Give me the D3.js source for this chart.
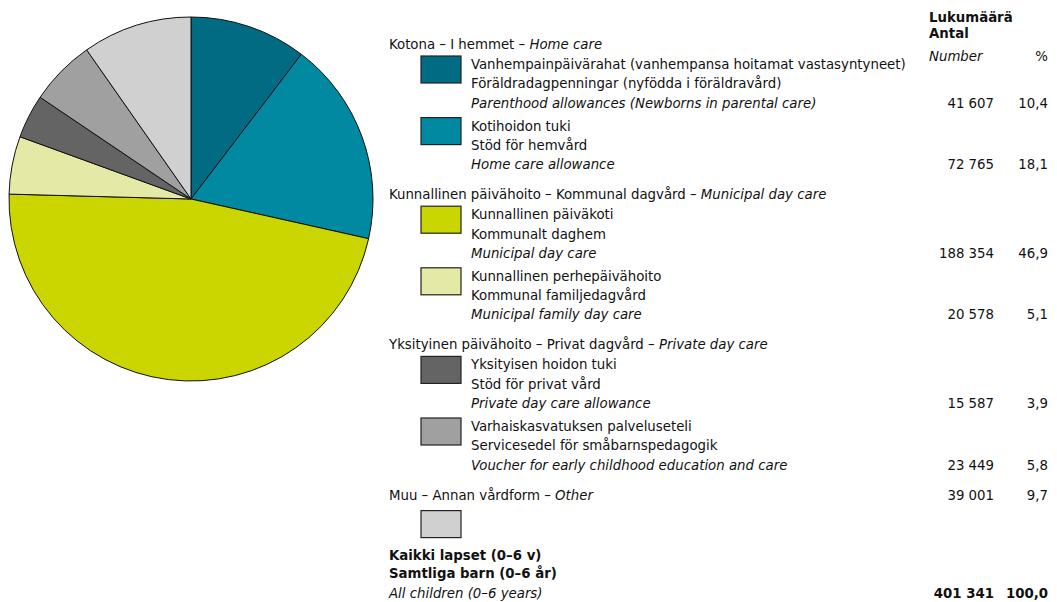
<!DOCTYPE html>
<html>
<head>
<meta charset="utf-8">
<script src="https://cdn.jsdelivr.net/npm/d3@7"></script>
<style>
  body { margin: 0; background: #fff; }
  svg text { font-family: "Liberation Sans Narrow", "DejaVu Sans Condensed", "Arial Narrow", sans-serif; font-size: 14.8px; fill: #111; }
  .it { font-style: italic; }
  .b { font-weight: bold; }
</style>
</head>
<body>
<svg id="chart" width="1057" height="602"></svg>
<script>
// Data
const groupHeaders = [
    ["Kotona – I hemmet – ", "Home care"],
    ["Kunnallinen päivähoito – Kommunal dagvård – ", "Municipal day care"],
    ["Yksityinen päivähoito – Privat dagvård – ", "Private day care"],
    ["Muu – Annan vårdform – ", "Other"]
];
const catGroup = [0, 0, 1, 1, 2, 2, 3];
const catFi = ["Vanhempainpäivärahat (vanhempansa hoitamat vastasyntyneet)", "Kotihoidon tuki",
    "Kunnallinen päiväkoti", "Kunnallinen perhepäivähoito", "Yksityisen hoidon tuki",
    "Varhaiskasvatuksen palveluseteli", ""];
const catSv = ["Föräldradagpenningar (nyfödda i föräldravård)", "Stöd för hemvård", "Kommunalt daghem",
    "Kommunal familjedagvård", "Stöd för privat vård", "Servicesedel för småbarnspedagogik", ""];
const catEn = ["Parenthood allowances (Newborns in parental care)", "Home care allowance", "Municipal day care",
    "Municipal family day care", "Private day care allowance", "Voucher for early childhood education and care", ""];
const counts = [41607, 72765, 188354, 20578, 15587, 23449, 39001];
const percents = ["10,4", "18,1", "46,9", "5,1", "3,9", "5,8", "9,7"];
const colors = ["#006b82", "#0089a1", "#cbd500", "#e5e9a6", "#646464", "#a0a0a0", "#d0d0d0"];
const totalLabel = ["Kaikki lapset (0–6 v)", "Samtliga barn (0–6 år)", "All children (0–6 years)"];
const totalCount = "401 341";
const totalPct = "100,0";

const fmt = n => d3.format(",")(n).replace(/,/g, " ");

const svg = d3.select('#chart');

//Pie
const cx = 191, cy = 199, radius = 182;
const pie = d3.pie().sort(null).value(d => d)(counts);
const arc = d3.arc().innerRadius(0).outerRadius(radius);
svg.append('g')
    .attr('transform', `translate(${cx},${cy})`)
    .selectAll('path')
    .data(pie)
    .enter().append('path')
    .attr('d', arc)
    .attr('fill', (d, i) => colors[i])
    .attr('stroke', '#111')
    .attr('stroke-width', 1);

//Legend
const xHead = 389, xSw = 421, xTxt = 471, xNum = 994, xPct = 1048;
const lineH = 19.3, afterHeader = 20, betweenCats = 23, beforeHeader = 30;
const lg = svg.append('g');

// column heads
lg.append('text').attr('class', 'b').attr('x', 929).attr('y', 22).text('Lukumäärä');
lg.append('text').attr('class', 'b').attr('x', 929).attr('y', 38).text('Antal');
lg.append('text').attr('class', 'it').attr('x', 929).attr('y', 61).text('Number');
lg.append('text').attr('x', xPct).attr('y', 61).attr('text-anchor', 'end').text('%');

const header = (g, y) => {
    const t = lg.append('text').attr('x', xHead).attr('y', y + 5);
    t.append('tspan').text(groupHeaders[g][0]);
    t.append('tspan').attr('class', 'it').text(groupHeaders[g][1]);
};
const values = (i, y) => {
    lg.append('text').attr('x', xNum).attr('y', y + 5).attr('text-anchor', 'end').text(fmt(counts[i]));
    lg.append('text').attr('x', xPct).attr('y', y + 5).attr('text-anchor', 'end').text(percents[i]);
};
const swatch = (i, top) => {
    lg.append('rect').attr('x', xSw).attr('y', top).attr('width', 40).attr('height', 27)
        .attr('fill', colors[i]).attr('stroke', '#222').attr('stroke-width', 1.2);
};

let y = 44, lastGroup = -1;
counts.forEach((c, i) => {
    const g = catGroup[i];
    if (g !== lastGroup) {
        if (lastGroup >= 0) y += beforeHeader;
        header(g, y);
        lastGroup = g;
        if (!catFi[i]) {
            // "Other" has no sub-lines: values on header line, swatch below
            values(i, y);
            swatch(i, y + 16);
            return;
        }
        y += afterHeader;
    } else {
        y += betweenCats;
    }
    swatch(i, y - 8);
    lg.append('text').attr('x', xTxt).attr('y', y + 5).text(catFi[i]);
    lg.append('text').attr('x', xTxt).attr('y', y + lineH + 5).text(catSv[i]);
    lg.append('text').attr('class', 'it').attr('x', xTxt).attr('y', y + 2 * lineH + 5).text(catEn[i]);
    values(i, y + 2 * lineH);
    y += 2 * lineH;
});

// total
const ty = 555;
lg.append('text').attr('class', 'b').attr('x', xHead).attr('y', ty + 5).text(totalLabel[0]);
lg.append('text').attr('class', 'b').attr('x', xHead).attr('y', ty + 18 + 5).text(totalLabel[1]);
lg.append('text').attr('class', 'it').attr('x', xHead).attr('y', ty + 38 + 5).text(totalLabel[2]);
lg.append('text').attr('class', 'b').attr('x', xNum).attr('y', ty + 38 + 5).attr('text-anchor', 'end').text(totalCount);
lg.append('text').attr('class', 'b').attr('x', xPct).attr('y', ty + 38 + 5).attr('text-anchor', 'end').text(totalPct);
</script>
</body>
</html>
